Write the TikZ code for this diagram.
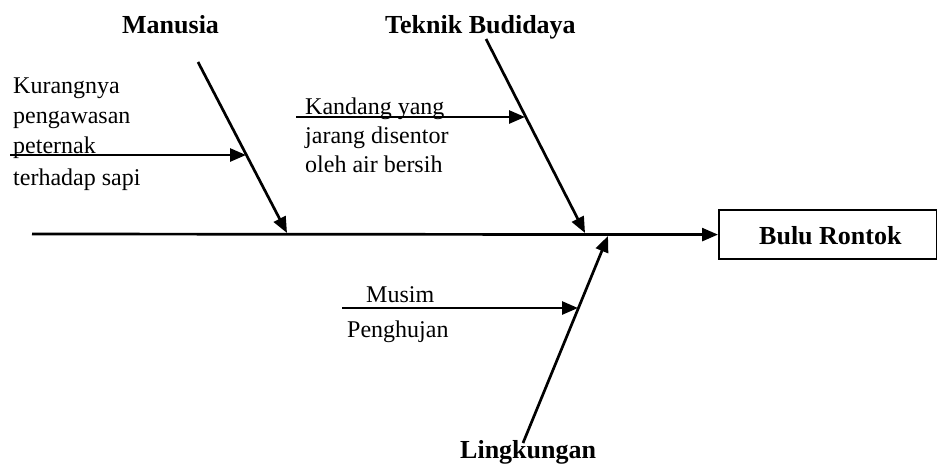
\documentclass[tikz,border=0pt]{standalone}
\usepackage{fontspec}
\setmainfont{Liberation Serif}
\usetikzlibrary{arrows.meta}
\begin{document}
\begin{tikzpicture}[x=1pt,y=-1pt,
  bone/.style={line width=2.7pt,-{Triangle[length=16pt,width=13pt]}},
  txt/.style={anchor=base west,inner sep=0pt,font=\fontsize{24}{30}\selectfont},
  head/.style={anchor=base west,inner sep=0pt,font=\fontsize{26}{30}\selectfont\bfseries}]
\useasboundingbox (0,0) rectangle (937,464);
% effect box
\node[draw,line width=2.2pt,minimum width=218pt,minimum height=49pt,inner sep=0pt,anchor=north west] (eff) at (718,209) {};
\node[head] (efft) at (759,244) {Bulu Rontok};
% spine
\coordinate (sp0) at (32,234);
\draw[bone] (sp0) -- (eff.west);
% category labels
\node[head] (man) at (122,33) {Manusia};
\node[head] (tek) at (385,33) {Teknik Budidaya};
\node[head] (lin) at (460,458) {Lingkungan};
% bones
\coordinate (m0) at (198,62);  \coordinate (m1) at (287,233);
\coordinate (t0) at (486,39);  \coordinate (t1) at (585,233);
\coordinate (l0) at (523,443); \coordinate (l1) at (608,236);
\draw[bone] (m0) -- (m1);
\draw[bone] (t0) -- (t1);
\draw[bone] (l0) -- (l1);
% sub-causes
\coordinate (k0) at (10,155);  \coordinate (k1) at (246,155);
\coordinate (d0) at (296,117); \coordinate (d1) at (525,117);
\coordinate (u0) at (342,308); \coordinate (u1) at (578,308);
\draw[bone] (k0) -- (k1);
\draw[bone] (d0) -- (d1);
\draw[bone] (u0) -- (u1);
% texts
\node[txt] (ka) at (13,93) {Kurangnya};
\node[txt] (kb) at (13,123) {pengawasan};
\node[txt] (kc) at (13,153) {peternak};
\node[txt] (kd) at (13,185) {terhadap sapi};
\node[txt] (da) at (305,114) {Kandang yang};
\node[txt] (db) at (305,143) {jarang disentor};
\node[txt] (dc) at (305,172) {oleh air bersih};
\node[txt] (ua) at (366,302) {Musim};
\node[txt] (ub) at (347,337) {Penghujan};
\end{tikzpicture}
\end{document}
